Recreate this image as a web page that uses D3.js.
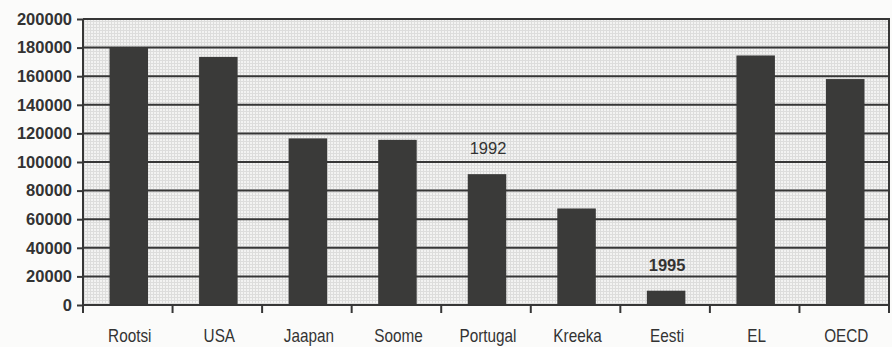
<!DOCTYPE html>
<html>
<head>
<meta charset="utf-8">
<script src="https://cdn.jsdelivr.net/npm/d3@7"></script>
<style>
  html, body { margin: 0; padding: 0; background: #fbfbfa; }
  svg { display: block; }
</style>
</head>
<body>
<svg id="chart" width="892" height="347"></svg>
<script>
// Countries / regions and their values
const categories = ["Rootsi", "USA", "Jaapan", "Soome", "Portugal", "Kreeka", "Eesti", "EL", "OECD"];
const values = [180000, 173500, 116500, 115500, 91500, 67500, 10000, 174500, 158000];
// Year notes shown above some bars
const notes = [
  { category: "Portugal", text: "1992", bold: false },
  { category: "Eesti", text: "1995", bold: true }
];
const yTicks = [0, 20000, 40000, 60000, 80000, 100000, 120000, 140000, 160000, 180000, 200000];

const svg = d3.select("#chart");
const margin = { left: 83, right: 3, top: 19, bottom: 42 };
const W = 892, H = 347;
const ink = "#363636";
const textInk = "#333";

const x = d3.scaleBand()
  .domain(categories)
  .range([margin.left, W - margin.right])
  .paddingInner(0)
  .paddingOuter(0);

const y = d3.scaleLinear()
  .domain([0, 200000])
  .range([H - margin.bottom, margin.top]);

// Halftone-like fill for the plot area
const defs = svg.append("defs");
const pat = defs.append("pattern")
  .attr("id", "screen")
  .attr("width", 3).attr("height", 3)
  .attr("patternUnits", "userSpaceOnUse");
pat.append("rect").attr("width", 3).attr("height", 3).attr("fill", "#f3f3f2");
pat.append("rect").attr("width", 3).attr("height", 1).attr("fill", "#dddddc");
pat.append("rect").attr("width", 1).attr("height", 3).attr("fill", "#dddddc");

svg.append("rect")
  .attr("x", x.range()[0]).attr("y", y(200000))
  .attr("width", x.range()[1] - x.range()[0])
  .attr("height", y(0) - y(200000))
  .attr("fill", "url(#screen)");

// Horizontal gridlines
svg.append("g")
  .selectAll("line")
  .data(yTicks.filter(d => d > 0 && d < 200000))
  .join("line")
  .attr("x1", x.range()[0]).attr("x2", x.range()[1])
  .attr("y1", d => y(d)).attr("y2", d => y(d))
  .attr("stroke", ink).attr("stroke-width", 2);

// Bars
const barW = x.bandwidth() * 0.43;
svg.append("g")
  .selectAll("rect")
  .data(categories.map((c, i) => ({ c, v: values[i] })))
  .join("rect")
  .attr("x", d => x(d.c) + x.bandwidth() / 2 - barW / 2 + 1)
  .attr("y", d => y(d.v))
  .attr("width", barW)
  .attr("height", d => y(0) - y(d.v))
  .attr("fill", "#3a3a39");

// Plot frame (top and right)
svg.append("path")
  .attr("d", `M${x.range()[0]},${y(200000)}H${x.range()[1]}V${y(0)}`)
  .attr("fill", "none").attr("stroke", ink).attr("stroke-width", 2);

// Y axis
const yAxis = svg.append("g")
  .attr("transform", `translate(${margin.left},0)`)
  .call(d3.axisLeft(y).tickValues(yTicks).tickSize(6).tickPadding(5).tickFormat(d3.format("d")));
yAxis.select(".domain").attr("stroke", ink).attr("stroke-width", 2)
  .attr("d", `M0,${y(200000)}V${y(0) + 8}`);
yAxis.selectAll(".tick line").attr("stroke", ink).attr("stroke-width", 2);
yAxis.selectAll(".tick text")
  .attr("fill", textInk)
  .style("font-family", "'Liberation Sans', Arial, sans-serif")
  .style("font-size", "16.5px")
  .style("font-weight", "bold");

// X axis with ticks between categories
const xAxis = svg.append("g")
  .attr("transform", `translate(0,${y(0)})`);
xAxis.append("line")
  .attr("x1", x.range()[0]).attr("x2", x.range()[1])
  .attr("stroke", ink).attr("stroke-width", 2);
xAxis.selectAll("line.sep")
  .data(categories.slice(1).concat(["__end"]))
  .join("line")
  .attr("class", "sep")
  .attr("x1", d => d === "__end" ? x.range()[1] : x(d))
  .attr("x2", d => d === "__end" ? x.range()[1] : x(d))
  .attr("y1", 0).attr("y2", 8)
  .attr("stroke", ink).attr("stroke-width", 2);
// Category names in a condensed face (regular face squeezed horizontally)
xAxis.selectAll("text")
  .data(categories)
  .join("text")
  .attr("transform", d => `translate(${x(d) + x.bandwidth() / 2 + 2},37) scale(0.85,1)`)
  .attr("text-anchor", "middle")
  .attr("fill", textInk)
  .style("font-family", "'Liberation Sans', Arial, sans-serif")
  .style("font-size", "18px")
  .text(d => d);

// Year notes
svg.append("g")
  .selectAll("text")
  .data(notes)
  .join("text")
  .attr("x", d => x(d.category) + x.bandwidth() / 2 + 2)
  .attr("y", d => y(values[categories.indexOf(d.category)]) - 20)
  .attr("text-anchor", "middle")
  .attr("fill", textInk)
  .style("font-family", "'Liberation Sans', Arial, sans-serif")
  .style("font-size", "16.5px")
  .style("font-weight", d => d.bold ? "bold" : "normal")
  .text(d => d.text);
</script>
</body>
</html>
